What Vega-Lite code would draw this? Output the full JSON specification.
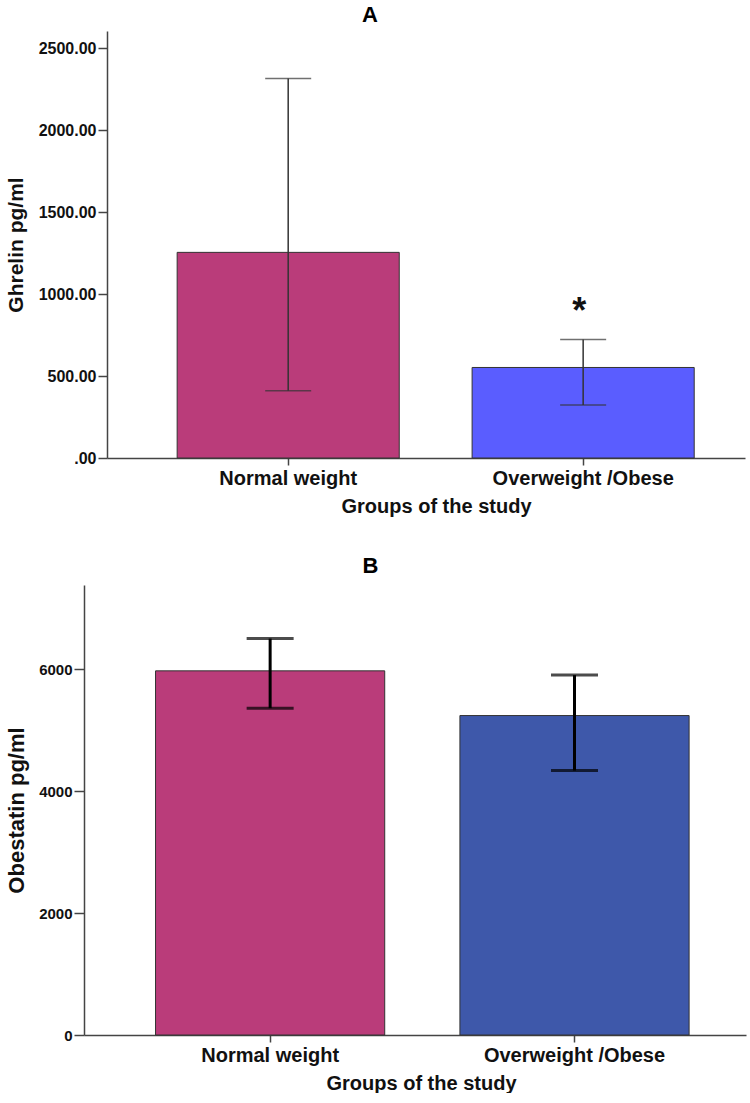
{
  "$schema": "https://vega.github.io/schema/vega-lite/v6.json",
  "background": "white",
  "padding": {"left": 5, "top": 4, "right": 0, "bottom": 0},
  "config": {
    "font": "Liberation Sans",
    "view": {"stroke": null},
    "axis": {"grid": false, "domainColor": "#444", "domainWidth": 1.5, "tickColor": "#444", "tickWidth": 1.5, "labelColor": "#111", "titleColor": "#111", "labelFont": "Liberation Sans", "titleFont": "Liberation Sans", "labelLimit": 0},
    "title": {"font": "Liberation Sans", "fontWeight": "bold", "color": "#000"}
  },
  "spacing": 39,
  "resolve": {"scale": {"x": "independent", "y": "independent", "color": "independent"}},
  "vconcat": [
    {
      "title": {"text": "A", "fontSize": 22, "anchor": "middle", "dx": -56, "offset": 4},
      "width": 638,
      "height": 427,
      "data": {"values": [
        {"group": "Normal weight", "mean": 1254, "lower": 410, "upper": 2314, "sig": ""},
        {"group": "Overweight /Obese", "mean": 552, "lower": 323, "upper": 723, "sig": "*"}
      ]},
      "encoding": {
        "x": {"field": "group", "type": "nominal", "sort": null,
          "scale": {"paddingInner": 0.247, "paddingOuter": 0.205, "align": 0.58},
          "axis": {"title": "Groups of the study", "labelAngle": 0, "labelFontSize": 20, "labelFontWeight": "bold", "tickSize": 7, "labelPadding": 3, "titleFontSize": 20, "titleFontWeight": "bold", "titlePadding": 8, "titleX": 329}}
      },
      "layer": [
        {
          "mark": {"type": "bar", "stroke": "#333", "strokeWidth": 1},
          "encoding": {
            "y": {"field": "mean", "type": "quantitative", "title": "Ghrelin pg/ml",
              "scale": {"domain": [0, 2604], "nice": false},
              "axis": {"values": [0, 500, 1000, 1500, 2000, 2500], "labelExpr": "datum.value == 0 ? '.00' : format(datum.value, '.2f')", "tickSize": 9, "labelPadding": 2, "labelFontSize": 16, "labelFontWeight": "bold", "titleFontSize": 21, "titleFontWeight": "bold", "titlePadding": 12}},
            "color": {"field": "group", "type": "nominal", "scale": {"domain": ["Normal weight", "Overweight /Obese"], "range": ["#BA3C7A", "#5A5DFF"]}, "legend": null}
          }
        },
        {
          "mark": {"type": "rule", "color": "#333", "strokeWidth": 1.5},
          "encoding": {"y": {"field": "lower", "type": "quantitative", "title": "Ghrelin pg/ml"}, "y2": {"field": "upper"}}
        },
        {
          "mark": {"type": "tick", "size": 46, "thickness": 1.5, "color": "#333"},
          "encoding": {"y": {"field": "lower", "type": "quantitative", "title": "Ghrelin pg/ml"}}
        },
        {
          "mark": {"type": "tick", "size": 46, "thickness": 1.5, "color": "#333"},
          "encoding": {"y": {"field": "upper", "type": "quantitative", "title": "Ghrelin pg/ml"}}
        },
        {
          "mark": {"type": "text", "fontSize": 36, "fontWeight": "bold", "dy": -27, "dx": -4, "baseline": "middle", "color": "#111"},
          "encoding": {"y": {"field": "upper", "type": "quantitative", "title": "Ghrelin pg/ml"}, "text": {"field": "sig"}}
        }
      ]
    },
    {
      "title": {"text": "B", "fontSize": 22, "anchor": "middle", "dx": -56, "offset": 7},
      "width": 639,
      "height": 450,
      "data": {"values": [
        {"group": "Normal weight", "mean": 5972, "lower": 5360, "upper": 6502},
        {"group": "Overweight /Obese", "mean": 5239, "lower": 4337, "upper": 5902}
      ]},
      "encoding": {
        "x": {"field": "group", "type": "nominal", "sort": null,
          "scale": {"range": [-23, 639], "paddingInner": 0.247, "paddingOuter": 0.211, "align": 0.557},
          "axis": {"title": "Groups of the study", "labelAngle": 0, "labelFontSize": 20, "labelFontWeight": "bold", "tickSize": 7, "labelPadding": 3, "titleFontSize": 20, "titleFontWeight": "bold", "titlePadding": 8, "titleX": 314}}
      },
      "layer": [
        {
          "mark": {"type": "bar", "stroke": "#333", "strokeWidth": 1},
          "encoding": {
            "y": {"field": "mean", "type": "quantitative", "title": "Obestatin pg/ml",
              "scale": {"domain": [0, 7380], "nice": false},
              "axis": {"values": [0, 2000, 4000, 6000], "format": "d", "offset": 23, "tickSize": 10, "labelPadding": 2, "labelFontSize": 15, "labelFontWeight": "bold", "titleFontSize": 22, "titleFontWeight": "bold", "titlePadding": 10}},
            "color": {"field": "group", "type": "nominal", "scale": {"domain": ["Normal weight", "Overweight /Obese"], "range": ["#BA3C7A", "#3E58AA"]}, "legend": null}
          }
        },
        {
          "mark": {"type": "rule", "color": "#000", "strokeWidth": 3},
          "encoding": {"y": {"field": "lower", "type": "quantitative", "title": "Obestatin pg/ml"}, "y2": {"field": "upper"}}
        },
        {
          "mark": {"type": "tick", "size": 47, "thickness": 3, "color": "#000"},
          "encoding": {"y": {"field": "lower", "type": "quantitative", "title": "Obestatin pg/ml"}}
        },
        {
          "mark": {"type": "tick", "size": 47, "thickness": 3, "color": "#000"},
          "encoding": {"y": {"field": "upper", "type": "quantitative", "title": "Obestatin pg/ml"}}
        }
      ]
    }
  ]
}
